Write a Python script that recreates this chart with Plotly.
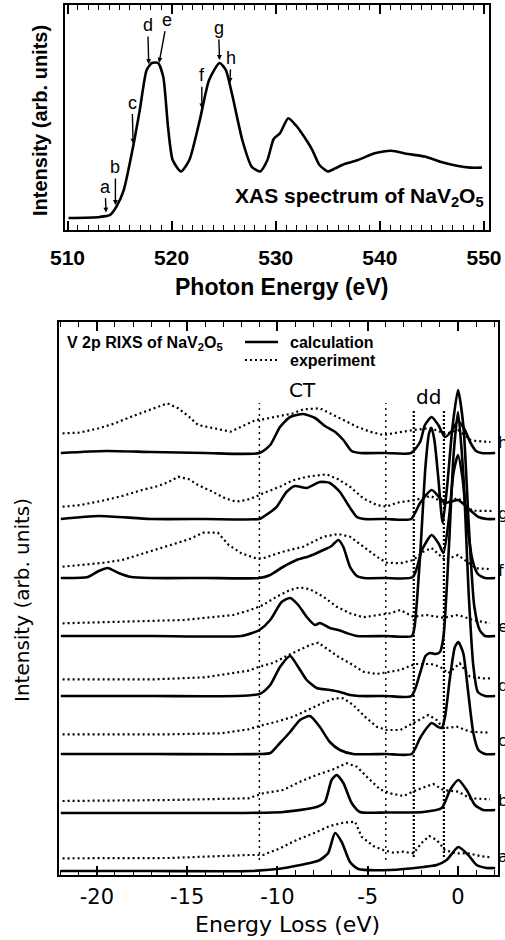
import numpy as np
import plotly.graph_objects as go

W, H = 505, 940

# ---------------- V L-edge XAS of NaV2O5 (top panel) ----------------
xas_energy = [510.1, 513.1, 514.1, 514.7, 515.4, 516.3, 516.95, 517.6, 518.1, 518.7,
              519.2, 519.65, 520.1, 520.9, 521.7, 522.7, 523.6, 524.6, 525.2, 525.8,
              526.8, 527.7, 528.5, 529.2, 529.8, 530.4, 531.2, 531.9, 532.5, 533.5,
              534.2, 535.0, 535.7, 536.6, 537.9, 539.5, 541.1, 542.7, 544.3, 545.8,
              547.4, 548.7, 549.8]
xas_intensity = [0.0, 0.007, 0.02, 0.073, 0.18, 0.46, 0.70, 0.955, 1.0, 1.0,
                 0.91, 0.59, 0.374, 0.30, 0.374, 0.63, 0.89, 1.0, 0.955, 0.80,
                 0.50, 0.33, 0.30, 0.374, 0.51, 0.546, 0.643, 0.60, 0.546, 0.44,
                 0.342, 0.30, 0.32, 0.348, 0.374, 0.417, 0.434, 0.413, 0.396, 0.363,
                 0.337, 0.325, 0.325]

excitation_labels = ["a", "b", "c", "d", "e", "f", "g", "h"]
excitation_energy = [513.7, 514.6, 516.3, 517.8, 518.8, 522.9, 524.6, 525.6]

# ---------------- V 2p RIXS (bottom panel), energy loss in eV ----------------
# calculation
calc_h_loss = [-22.0, -19.5, -17.0, -14.0, -11.0, -10.4, -9.86, -9.3, -8.57, -7.92, -7.37, -6.8,
               -6.35, -5.89, -5.4, -4.0, -2.6, -2.1, -1.83, -1.46, -1.09, -0.72, -0.35, 0.0,
               0.35, 0.7, 1.0, 1.3, 2.06]
calc_h_int = [0, 0.2, 0.1, 0, 0, 0.8, 2.6, 3.6, 3.9, 3.5, 2.7, 2.1,
              1.3, 0.2, 0, 0, 0, 1.1, 2.8, 3.6, 2.8, 1.6, 2.2, 3.2,
              2.4, 1.0, 0.2, 0, 0]

calc_g_loss = [-22.0, -19.9, -17.0, -14.0, -11.0, -10.8, -10.05, -9.5, -9.03, -8.38, -7.65, -7.1,
               -6.54, -6.08, -5.6, -5.2, -4.0, -2.6, -2.1, -1.46, -1.0, -0.7, 0.0, 0.66,
               1.13, 1.6, 2.06]
calc_g_int = [0, 0.3, 0, 0, 0, 0.2, 1.2, 2.7, 3.3, 3.1, 3.7, 3.6,
              2.7, 1.4, 0.2, 0, 0, 0, 1.6, 2.9, 2.1, 1.6, 1.9, 0.9,
              0.2, 0, 0]

calc_f_loss = [-22.0, -20.5, -19.9, -19.4, -18.8, -18.1, -17.0, -14.0, -11.0, -10.4, -9.7, -8.94,
               -8.2, -7.46, -7.0, -6.63, -6.35, -5.98, -5.6, -5.2, -4.0, -2.5, -2.0, -1.46,
               -1.09, -0.81, -0.5, -0.25, 0.0, 0.25, 0.5, 0.8, 1.1, 1.5, 2.06]
calc_f_int = [0, 0.1, 0.7, 1.0, 0.5, 0.1, 0, 0, 0, 0.3, 1.1, 1.8,
              2.2, 2.8, 3.2, 3.8, 3.1, 1.1, 0.2, 0, 0, 0.1, 2.8, 4.3,
              3.5, 2.5, 6.0, 10.5, 12.3, 10.0, 5.5, 1.8, 0.4, 0, 0]

calc_e_loss = [-22.0, -17.0, -12.0, -11.4, -11.0, -10.4, -9.77, -9.3, -8.85, -8.38, -7.92, -7.65,
               -7.1, -6.63, -6.17, -5.6, -4.0, -2.55, -2.4, -2.1, -1.8, -1.6, -1.46, -1.3,
               -1.1, -0.85, -0.6, -0.3, 0.0, 0.3, 0.6, 0.9, 1.2, 1.5, 2.06]
calc_e_int = [0, 0, 0, 0.3, 0.6, 1.6, 3.4, 3.8, 3.1, 1.9, 1.1, 1.3,
              0.8, 0.6, 0.3, 0, 0, 0, 1.0, 8.0, 17.0, 20.3, 20.8, 19.5,
              16.0, 11.3, 15.0, 21.0, 24.6, 21.0, 11.0, 3.0, 0.6, 0, 0]

calc_d_loss = [-22.0, -17.0, -11.0, -10.4, -9.86, -9.3, -8.85, -8.38, -7.83, -7.1, -6.54, -5.98,
               -5.5, -4.0, -2.57, -2.1, -1.8, -1.55, -1.25, -1.0, -0.8, -0.5, -0.25, 0.0,
               0.3, 0.6, 0.85, 1.1, 1.5, 2.06]
calc_d_int = [0, 0, 0.2, 1.1, 2.9, 4.0, 2.9, 1.6, 0.8, 0.6, 0.4, 0.1,
              0, 0, 0, 2.3, 4.0, 4.3, 4.2, 4.4, 6.0, 15.0, 24.0, 28.4,
              22.0, 10.0, 3.0, 0.4, 0, 0]

calc_c_loss = [-22.0, -17.0, -11.0, -10.4, -9.86, -9.3, -8.75, -8.2, -7.65, -7.1, -6.54, -5.8,
               -4.0, -2.57, -2.1, -1.73, -1.46, -1.09, -0.9, -0.72, -0.44, -0.17, 0.02, 0.29,
               0.57, 0.85, 1.13, 1.5, 2.06]
calc_c_int = [0, 0, 0, 0.1, 1.1, 2.2, 3.4, 3.8, 2.7, 1.2, 0.4, 0,
              0, 0, 1.6, 2.6, 3.1, 2.7, 2.6, 3.7, 7.7, 10.7, 11.2, 10.1,
              6.1, 2.1, 0.4, 0, 0]

calc_b_loss = [-22.0, -17.0, -12.0, -9.68, -7.83, -7.37, -7.0, -6.72, -6.35, -5.89, -5.43, -4.0,
               -1.92, -0.9, -0.44, 0.02, 0.48, 0.94, 1.4, 2.06]
calc_b_int = [0, 0, 0, 0.1, 0.6, 1.1, 3.3, 3.8, 3.0, 1.0, 0.1, 0.05,
              0.1, 0.5, 2.3, 3.3, 2.3, 0.8, 0.3, 0.3]

calc_a_loss = [-22.0, -17.0, -11.5, -10.0, -9.3, -8.2, -7.65, -7.19, -6.81, -6.44, -5.98, -5.52,
               -3.77, -1.92, -1.18, -0.63, 0.02, 0.57, 1.03, 1.59, 2.06]
calc_a_int = [0, 0, 0, 0.2, 0.4, 0.8, 1.1, 1.8, 3.8, 2.9, 0.9, 0.2,
              0.1, 0.4, 0.6, 1.1, 2.4, 1.6, 0.6, 0.3, 0.3]

# experiment
exp_h_loss = [-21.9, -21.0, -19.9, -19.0, -18.1, -17.0, -16.1, -15.5, -14.9, -14.4, -13.6, -12.6,
              -12.0, -11.2, -10.8, -10.05, -9.12, -8.57, -7.65, -7.1, -6.35, -5.6, -4.88, -4.14,
              -3.4, -2.47, -1.5, -0.7, 0.0, 0.7, 1.0, 1.8]
exp_h_int = [0.87, 0.93, 1.37, 1.87, 2.53, 3.27, 3.87, 3.37, 2.53, 1.7, 1.37, 1.03,
             1.53, 2.2, 2.27, 2.53, 2.87, 3.27, 3.37, 2.87, 2.2, 1.53, 1.03, 0.7,
             0.93, 1.2, 1.4, 0.8, 1.2, 0.2, 0.1, 0.0]

exp_g_loss = [-21.9, -20.9, -19.7, -18.6, -17.5, -16.6, -16.0, -15.5, -14.9, -14.4, -13.6, -12.9,
              -12.3, -11.7, -11.2, -10.8, -9.86, -9.2, -8.38, -7.27, -6.63, -5.98, -5.25, -4.5,
              -3.95, -3.4, -3.03, -2.38, -1.5, -0.8, 0.0, 0.8, 1.9]
exp_g_int = [0.43, 0.6, 1.03, 1.5, 2.1, 2.5, 2.93, 3.43, 3.17, 2.6, 1.93, 1.27,
             0.93, 1.1, 1.43, 1.77, 2.43, 3.03, 3.43, 3.67, 3.17, 2.43, 1.27, 0.6,
             0.43, 0.83, 0.93, 1.1, 1.5, 0.8, 1.3, 0.03, 0.0]

exp_f_loss = [-21.9, -20.7, -19.6, -18.6, -17.7, -16.8, -15.9, -14.9, -14.1, -13.3, -12.7, -12.0,
              -11.2, -10.8, -9.7, -8.57, -7.46, -6.63, -5.98, -5.25, -4.5, -3.95, -3.2, -2.47,
              -1.92, -1.46, -0.72, 0.0, 1.0, 1.7]
exp_f_int = [0.23, 0.4, 0.63, 0.9, 1.4, 1.9, 2.4, 2.97, 3.63, 3.63, 2.4, 1.57,
             1.07, 1.07, 1.73, 2.23, 3.23, 3.5, 3.23, 2.23, 1.23, 0.63, 0.57, 0.9,
             1.73, 2.1, 0.9, 1.4, 0.07, 0.0]

exp_e_loss = [-21.9, -18.0, -15.2, -12.45, -11.5, -10.8, -10.05, -9.3, -8.75, -8.2, -7.46, -6.72,
              -5.98, -5.25, -4.5, -3.77, -3.2, -2.47, -1.73, -0.81, 0.0, 0.85, 1.77]
exp_e_int = [0.07, 0.23, 0.4, 0.9, 1.4, 1.9, 2.73, 3.4, 3.67, 3.47, 2.73, 1.73,
             1.07, 0.67, 0.9, 1.07, 1.4, 0.73, 0.9, 0.63, 0.9, 0.4, 0.07]

exp_d_loss = [-21.9, -16.8, -14.0, -12.7, -11.6, -11.0, -10.2, -9.5, -8.75, -8.2, -7.74, -7.27,
              -6.63, -5.98, -5.25, -4.5, -3.77, -3.2, -2.38, -1.5, -1.0, -0.54, 0.1, 0.66,
              1.4, 1.87]
exp_d_int = [0.07, 0.07, 0.27, 0.6, 0.93, 1.33, 1.73, 2.4, 3.07, 3.5, 3.73, 3.17,
             2.33, 1.67, 0.83, 0.6, 0.83, 1.0, 1.6, 1.6, 1.33, 0.67, 1.67, 0.33,
             0.17, 0.17]

exp_c_loss = [-21.9, -16.0, -13.1, -11.6, -11.0, -10.05, -9.12, -8.29, -7.46, -6.81, -6.35, -5.8,
              -5.15, -4.5, -3.95, -3.2, -2.38, -1.64, -1.18, -0.81, -0.07, 0.66, 1.77]
exp_c_int = [0.07, 0.07, 0.17, 0.57, 0.9, 1.33, 1.83, 2.5, 3.23, 3.67, 3.67, 3.0,
             1.83, 0.83, 0.5, 0.5, 1.33, 2.0, 1.5, 0.67, 0.83, 0.33, 0.23]

exp_b_loss = [-21.9, -16.0, -11.6, -10.8, -9.68, -8.75, -7.83, -6.91, -6.17, -5.6, -4.97, -4.32,
              -3.77, -3.03, -2.29, -1.37, -0.81, 0.02, 0.66, 1.77]
exp_b_int = [0.0, 0.1, 0.27, 0.77, 1.1, 1.93, 2.6, 3.17, 3.77, 3.43, 2.27, 1.17,
             0.77, 0.5, 1.1, 1.7, 1.1, 0.93, 0.27, 0.17]

exp_a_loss = [-21.9, -16.0, -11.6, -10.8, -9.86, -8.94, -8.0, -7.1, -6.35, -5.7, -5.34, -4.69,
              -4.14, -3.58, -3.03, -2.47, -2.0, -1.59, -1.18, -0.72, -0.17, 0.57, 1.22, 1.77]
exp_a_int = [0.07, 0.1, 0.4, 0.4, 1.07, 1.9, 2.57, 3.3, 3.63, 3.73, 2.23, 1.3,
             0.9, 0.63, 0.73, 0.57, 1.63, 2.3, 1.9, 0.9, 0.57, 0.57, 0.3, 0.17]

spectrum_labels = ["h", "g", "f", "e", "d", "c", "b", "a"]
calc_series = [(calc_h_loss, calc_h_int), (calc_g_loss, calc_g_int), (calc_f_loss, calc_f_int),
               (calc_e_loss, calc_e_int), (calc_d_loss, calc_d_int), (calc_c_loss, calc_c_int),
               (calc_b_loss, calc_b_int), (calc_a_loss, calc_a_int)]
exp_series = [(exp_h_loss, exp_h_int), (exp_g_loss, exp_g_int), (exp_f_loss, exp_f_int),
              (exp_e_loss, exp_e_int), (exp_d_loss, exp_d_int), (exp_c_loss, exp_c_int),
              (exp_b_loss, exp_b_int), (exp_a_loss, exp_a_int)]

# vertical stacking of the spectra
calc_offsets = [42.2, 35.6, 29.7, 23.9, 17.9, 12.1, 6.2, 0.4]
exp_offsets = [43.3, 36.4, 30.6, 25.1, 19.5, 14.0, 7.4, 1.6]

# region boundaries (CT / dd / elastic)
region_lines = [-11.0, -4.0, -2.45, -0.78]

# ---------------- helpers ----------------
def px(x):
    return x / W


def py(y):
    return 1 - y / H


BOLD = dict(family="Liberation Sans, Arial, sans-serif", color="black", weight="bold")
ROUND = dict(family="DejaVu Sans, sans-serif", color="black")

fig = go.Figure()

# XAS curve
fig.add_trace(go.Scatter(
    x=xas_energy, y=xas_intensity, mode="lines", xaxis="x", yaxis="y",
    line=dict(color="black", width=2.6, shape="spline", smoothing=0.6),
    hoverinfo="skip"))

# RIXS spectra: measured data dotted, calculation solid
for (loss, inten), off in zip(exp_series, exp_offsets):
    fig.add_trace(go.Scatter(
        x=loss, y=np.array(inten) + off, mode="lines", xaxis="x2", yaxis="y2",
        line=dict(color="black", width=2.2, dash="2px,3px"),
        hoverinfo="skip"))
for (loss, inten), off in zip(calc_series, calc_offsets):
    fig.add_trace(go.Scatter(
        x=loss, y=np.array(inten) + off, mode="lines", xaxis="x2", yaxis="y2",
        line=dict(color="black", width=2.6, shape="spline", smoothing=0.6),
        hoverinfo="skip"))

# spectrum letters in a thin strip right of the RIXS frame, clipped at the figure edge
label_rows = [444, 515, 572, 628, 687, 742, 802, 858]
fig.add_trace(go.Scatter(
    x=[0] * len(spectrum_labels), y=label_rows, mode="text", text=spectrum_labels,
    textposition="middle right", textfont=dict(ROUND, size=16),
    xaxis="x3", yaxis="y3", cliponaxis=True, hoverinfo="skip"))

shapes = []
for i, xv in enumerate(region_lines):
    heavy = i >= 2
    shapes.append(dict(
        type="line", xref="x2", yref="y2", x0=xv, x1=xv,
        y0=1.8 if heavy else 1.5, y1=46.5 if heavy else 47.2,
        line=dict(color="black", width=2.2 if heavy else 1.4,
                  dash="2px,2px" if heavy else "2px,4px")))

# legend samples
shapes.append(dict(type="line", xref="paper", yref="paper", x0=px(245), x1=px(278),
                   y0=py(342), y1=py(342), line=dict(color="black", width=2.5)))
shapes.append(dict(type="line", xref="paper", yref="paper", x0=px(245), x1=px(278),
                   y0=py(360), y1=py(360), line=dict(color="black", width=2.2, dash="2px,3px")))

annotations = []

# excitation-energy arrows on the XAS curve
label_offsets = [(-1, -26), (0, -38), (-1, -41), (-1, -39), (8, -43), (0, -33), (-1, -32), (1, -25)]
for lab, en, (ax, ay) in zip(excitation_labels, excitation_energy, label_offsets):
    tip = float(np.interp(en, xas_energy, xas_intensity)) + 0.02
    annotations.append(dict(
        x=en, y=tip, xref="x", yref="y", text=lab, showarrow=True,
        ax=ax, ay=ay, axref="pixel", ayref="pixel",
        arrowhead=2, arrowsize=0.7, arrowwidth=1.4, arrowcolor="black",
        font=dict(family="Liberation Sans, Arial, sans-serif", size=18, color="black")))

annotations += [
    dict(x=px(486), y=py(197), xref="paper", yref="paper", xanchor="right", yanchor="middle",
         text="XAS spectrum of NaV<sub>2</sub>O<sub>5</sub>", showarrow=False,
         font=dict(BOLD, size=21)),
    dict(x=px(281), y=py(287), xref="paper", yref="paper", xanchor="center", yanchor="middle",
         text="Photon Energy (eV)", showarrow=False, font=dict(BOLD, size=23)),
    dict(x=px(40), y=py(121), xref="paper", yref="paper", xanchor="center", yanchor="middle",
         text="Intensity (arb. units)", showarrow=False, textangle=-90, font=dict(BOLD, size=20)),
    dict(x=px(287), y=py(924), xref="paper", yref="paper", xanchor="center", yanchor="middle",
         text="Energy Loss (eV)", showarrow=False, font=dict(ROUND, size=22)),
    dict(x=px(22), y=py(600), xref="paper", yref="paper", xanchor="center", yanchor="middle",
         text="Intensity (arb. units)", showarrow=False, textangle=-90, font=dict(ROUND, size=20)),
    dict(x=px(65), y=py(343), xref="paper", yref="paper", xanchor="left", yanchor="middle",
         text="V 2p RIXS of NaV<sub>2</sub>O<sub>5</sub>", showarrow=False, font=dict(BOLD, size=16)),
    dict(x=px(288), y=py(342), xref="paper", yref="paper", xanchor="left", yanchor="middle",
         text="calculation", showarrow=False, font=dict(BOLD, size=16)),
    dict(x=px(288), y=py(360), xref="paper", yref="paper", xanchor="left", yanchor="middle",
         text="experiment", showarrow=False, font=dict(BOLD, size=16)),
    dict(x=px(302), y=py(390), xref="paper", yref="paper", xanchor="center", yanchor="middle",
         text="CT", showarrow=False, font=dict(ROUND, size=20)),
    dict(x=px(428), y=py(397), xref="paper", yref="paper", xanchor="center", yanchor="middle",
         text="dd", showarrow=False, font=dict(ROUND, size=20)),
]

frame = dict(showline=True, linecolor="black", linewidth=2, mirror="ticks",
             showgrid=False, zeroline=False, automargin=False)
hidden = dict(visible=False, showgrid=False, zeroline=False, automargin=False, fixedrange=True)

fig.update_layout(
    width=W, height=H, margin=dict(l=0, r=0, t=0, b=0, autoexpand=False),
    paper_bgcolor="white", plot_bgcolor="rgba(0,0,0,0)", showlegend=False,
    xaxis=dict(frame, domain=[px(65), px(489)], range=[509.76, 550.48], anchor="y",
               tickvals=[510, 520, 530, 540, 550], ticks="inside", ticklen=9, tickwidth=1.6,
               tickcolor="black", ticklabelstandoff=8, ticklabeloverflow="allow",
               tickfont=dict(BOLD, size=21),
               minor=dict(dtick=1, tick0=510, ticks="inside", ticklen=5, tickwidth=1.3,
                          tickcolor="black")),
    yaxis=dict(frame, domain=[py(230), py(5)], range=[-0.0774, 1.374], anchor="x",
               showticklabels=False, ticks=""),
    xaxis2=dict(frame, domain=[px(59), px(498)], range=[-22.1, 2.216], anchor="y2",
                tickvals=[-20, -15, -10, -5, 0], ticktext=["-20", "-15", "-10", "-5", "0"],
                ticks="inside", ticklen=9, tickwidth=1.6, tickcolor="black",
                ticklabelstandoff=2, tickfont=dict(ROUND, size=21),
                minor=dict(dtick=1, tick0=0, ticks="inside", ticklen=5, tickwidth=1.3,
                           tickcolor="black")),
    yaxis2=dict(frame, domain=[py(875), py(322)], range=[0, 55.3], anchor="x2",
                showticklabels=False, ticks=""),
    xaxis3=dict(hidden, domain=[px(498), 1.0], range=[0, 7], anchor="y3"),
    yaxis3=dict(hidden, domain=[py(875), py(322)], range=[875, 322], anchor="x3"),
    shapes=shapes, annotations=annotations,
)

fig.write_html("out.html")
